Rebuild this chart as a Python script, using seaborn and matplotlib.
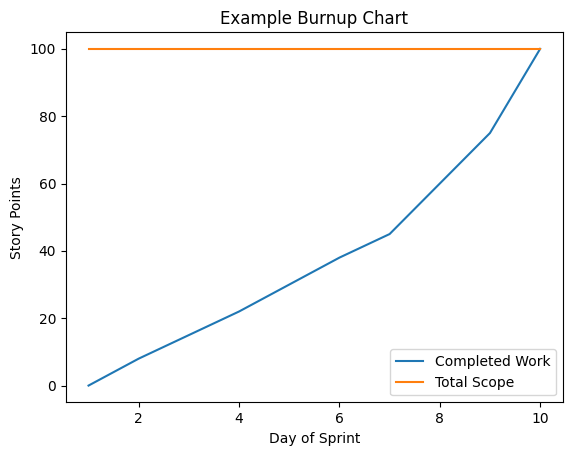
import numpy as np
import pandas as pd
import matplotlib
matplotlib.use("Agg")
import matplotlib.pyplot as plt
import seaborn as sns

days = [1, 2, 3, 4, 5, 6, 7, 8, 9, 10]
completed = [0, 8, 15, 22, 30, 38, 45, 60, 75, 100]
scope = [100, 100, 100, 100, 100, 100, 100, 100, 100, 100]

df = pd.DataFrame({"Day": days, "Completed Work": completed, "Total Scope": scope})

fig, ax = plt.subplots(figsize=(5.71, 4.55), dpi=100)
fig.subplots_adjust(left=0.1155, right=0.9855, top=0.9296, bottom=0.1156)

sns.lineplot(data=df, x="Day", y="Completed Work", ax=ax, color="#1f77b4", label="Completed Work")
sns.lineplot(data=df, x="Day", y="Total Scope", ax=ax, color="#ff7f0e", label="Total Scope")

ax.set_title("Example Burnup Chart")
ax.set_xlabel("Day of Sprint")
ax.set_ylabel("Story Points")
ax.legend(loc="lower right")

fig.savefig("out.png", dpi=100)
